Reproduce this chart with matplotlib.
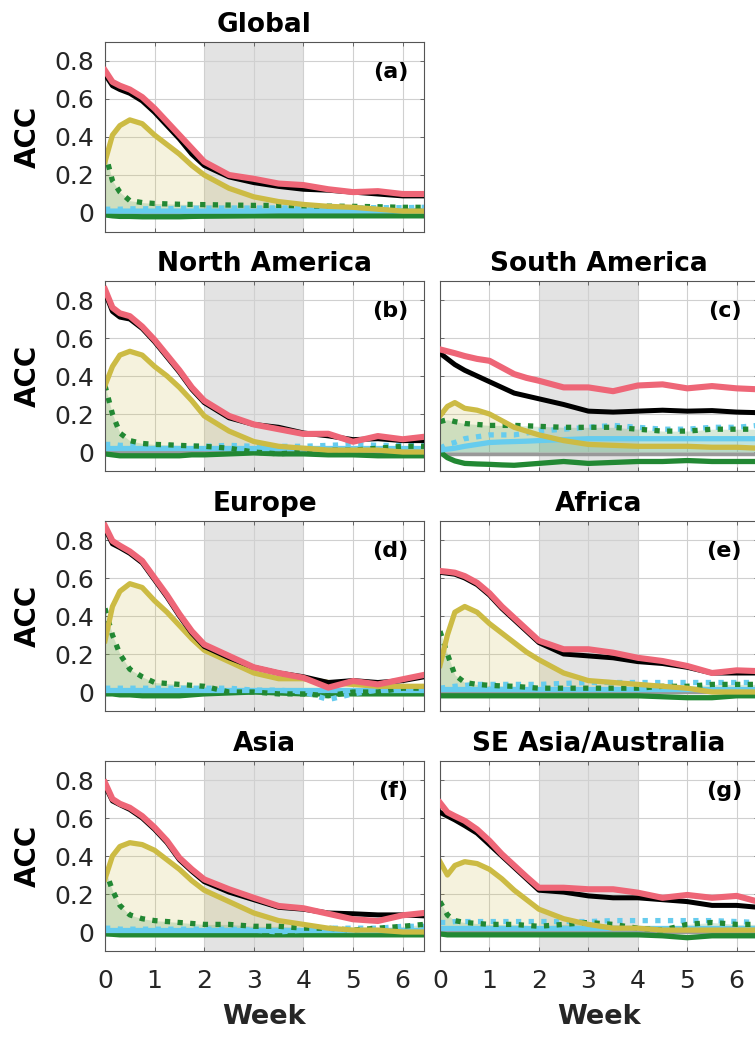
import matplotlib.pyplot as plt

plt.rcParams['font.family'] = ['DejaVu Sans']

titles = ['Global', 'North America', 'South America', 'Europe', 'Africa',
          'Asia', 'SE Asia/Australia']
letters = ['(a)', '(b)', '(c)', '(d)', '(e)', '(f)', '(g)']
weeks = [0, 0.15, 0.3, 0.5, 0.75, 1, 1.25, 1.5, 1.75, 2, 2.5, 3, 3.5, 4,
         4.5, 5, 5.5, 6, 6.43]
xticks = [0, 1, 2, 3, 4, 5, 6]
yticks = [0, 0.2, 0.4, 0.6, 0.8]
yticklabels = ['0', '0.2', '0.4', '0.6', '0.8']

# pink curve, one row per region
red_acc = [
    [0.75, 0.69, 0.67, 0.65, 0.61, 0.55, 0.48, 0.41, 0.34, 0.27, 0.20, 0.18, 0.155, 0.147, 0.125, 0.11, 0.115, 0.10, 0.10],
    [0.856, 0.76, 0.73, 0.715, 0.66, 0.59, 0.51, 0.43, 0.34, 0.27, 0.19, 0.145, 0.12, 0.095, 0.096, 0.054, 0.084, 0.067, 0.08],
    [0.54, 0.53, 0.52, 0.505, 0.49, 0.48, 0.445, 0.41, 0.39, 0.375, 0.34, 0.34, 0.32, 0.35, 0.356, 0.335, 0.347, 0.335, 0.33],
    [0.874, 0.795, 0.77, 0.74, 0.69, 0.60, 0.51, 0.41, 0.32, 0.25, 0.19, 0.13, 0.10, 0.075, 0.023, 0.058, 0.04, 0.067, 0.09],
    [0.637, 0.633, 0.628, 0.61, 0.575, 0.52, 0.45, 0.39, 0.33, 0.27, 0.225, 0.225, 0.207, 0.18, 0.163, 0.137, 0.10, 0.114, 0.11],
    [0.786, 0.70, 0.675, 0.654, 0.61, 0.55, 0.48, 0.39, 0.33, 0.277, 0.225, 0.18, 0.137, 0.125, 0.096, 0.067, 0.058, 0.088, 0.10],
    [0.68, 0.63, 0.61, 0.585, 0.54, 0.48, 0.41, 0.35, 0.29, 0.233, 0.233, 0.225, 0.225, 0.207, 0.18, 0.195, 0.18, 0.19, 0.16],
]
black_acc = [
    [0.73, 0.67, 0.65, 0.63, 0.59, 0.53, 0.46, 0.39, 0.31, 0.25, 0.19, 0.16, 0.14, 0.125, 0.12, 0.11, 0.10, 0.09, 0.09],
    [0.84, 0.74, 0.71, 0.70, 0.65, 0.58, 0.50, 0.42, 0.33, 0.26, 0.18, 0.145, 0.13, 0.10, 0.085, 0.065, 0.07, 0.06, 0.06],
    [0.52, 0.49, 0.46, 0.43, 0.40, 0.37, 0.34, 0.31, 0.295, 0.28, 0.25, 0.215, 0.21, 0.215, 0.22, 0.215, 0.218, 0.21, 0.207],
    [0.86, 0.78, 0.76, 0.73, 0.68, 0.59, 0.50, 0.40, 0.31, 0.24, 0.18, 0.13, 0.10, 0.08, 0.05, 0.06, 0.05, 0.06, 0.08],
    [0.63, 0.625, 0.62, 0.60, 0.565, 0.51, 0.44, 0.38, 0.32, 0.26, 0.20, 0.19, 0.18, 0.16, 0.15, 0.13, 0.10, 0.10, 0.10],
    [0.77, 0.69, 0.67, 0.645, 0.60, 0.54, 0.47, 0.38, 0.32, 0.265, 0.21, 0.17, 0.13, 0.12, 0.10, 0.096, 0.09, 0.09, 0.085],
    [0.63, 0.61, 0.59, 0.56, 0.52, 0.46, 0.40, 0.34, 0.28, 0.22, 0.21, 0.19, 0.18, 0.18, 0.17, 0.16, 0.14, 0.14, 0.13],
]
yellow_acc = [
    [0.27, 0.41, 0.46, 0.49, 0.47, 0.41, 0.36, 0.31, 0.25, 0.20, 0.13, 0.085, 0.06, 0.045, 0.035, 0.03, 0.02, 0.01, 0.01],
    [0.35, 0.45, 0.51, 0.53, 0.51, 0.45, 0.40, 0.34, 0.27, 0.19, 0.11, 0.055, 0.03, 0.02, 0.01, 0.01, 0.01, 0.0, 0.0],
    [0.19, 0.24, 0.26, 0.23, 0.22, 0.20, 0.165, 0.13, 0.11, 0.09, 0.06, 0.04, 0.035, 0.03, 0.03, 0.03, 0.025, 0.025, 0.02],
    [0.27, 0.45, 0.53, 0.57, 0.55, 0.48, 0.42, 0.35, 0.28, 0.22, 0.16, 0.10, 0.07, 0.07, 0.05, 0.04, 0.03, 0.03, 0.03],
    [0.14, 0.30, 0.42, 0.45, 0.42, 0.36, 0.31, 0.26, 0.21, 0.17, 0.10, 0.06, 0.05, 0.04, 0.03, 0.02, 0.0, 0.0, 0.0],
    [0.28, 0.40, 0.45, 0.47, 0.46, 0.43, 0.38, 0.33, 0.27, 0.22, 0.16, 0.10, 0.06, 0.04, 0.02, 0.01, 0.01, 0.0, 0.0],
    [0.37, 0.30, 0.35, 0.37, 0.36, 0.33, 0.28, 0.22, 0.17, 0.12, 0.07, 0.04, 0.02, 0.02, 0.01, 0.01, 0.01, 0.01, 0.01],
]
green_dot = [
    [0.32, 0.17, 0.11, 0.065, 0.055, 0.05, 0.048, 0.046, 0.045, 0.044, 0.042, 0.04, 0.04, 0.038, 0.036, 0.035, 0.033, 0.03, 0.03],
    [0.35, 0.20, 0.10, 0.06, 0.045, 0.04, 0.038, 0.035, 0.032, 0.03, 0.02, 0.0, -0.01, 0.0, 0.01, 0.01, 0.02, 0.03, 0.03],
    [0.16, 0.17, 0.16, 0.15, 0.145, 0.14, 0.14, 0.14, 0.138, 0.135, 0.13, 0.13, 0.13, 0.12, 0.11, 0.11, 0.12, 0.12, 0.12],
    [0.44, 0.30, 0.20, 0.12, 0.08, 0.05, 0.045, 0.04, 0.035, 0.03, 0.0, 0.0, -0.01, -0.01, -0.02, 0.0, 0.0, 0.02, 0.02],
    [0.32, 0.20, 0.09, 0.05, 0.04, 0.035, 0.032, 0.03, 0.025, 0.02, 0.02, 0.02, 0.02, 0.02, 0.03, 0.03, 0.04, 0.04, 0.04],
    [0.33, 0.22, 0.14, 0.09, 0.07, 0.06, 0.055, 0.05, 0.045, 0.04, 0.04, 0.03, 0.03, 0.02, 0.02, 0.01, 0.02, 0.03, 0.04],
    [0.16, 0.09, 0.06, 0.05, 0.045, 0.04, 0.04, 0.04, 0.035, 0.03, 0.04, 0.05, 0.04, 0.02, 0.01, 0.04, 0.05, 0.04, 0.04],
]
cyan_dot = [
    [0.02, 0.02, 0.02, 0.022, 0.022, 0.023, 0.023, 0.024, 0.025, 0.025, 0.026, 0.026, 0.027, 0.027, 0.028, 0.028, 0.028, 0.028, 0.03],
    [0.04, 0.04, 0.035, 0.035, 0.035, 0.035, 0.035, 0.03, 0.03, 0.03, 0.035, 0.03, 0.03, 0.03, 0.035, 0.04, 0.035, 0.035, 0.04],
    [0.02, 0.04, 0.05, 0.07, 0.08, 0.09, 0.09, 0.09, 0.10, 0.11, 0.12, 0.13, 0.14, 0.13, 0.12, 0.12, 0.13, 0.13, 0.14],
    [0.02, 0.02, 0.02, 0.02, 0.02, 0.02, 0.02, 0.02, 0.02, 0.02, 0.02, 0.01, 0.01, 0.0, -0.04, -0.01, 0.01, 0.02, 0.02],
    [0.02, 0.025, 0.03, 0.035, 0.04, 0.04, 0.04, 0.04, 0.04, 0.04, 0.045, 0.05, 0.05, 0.05, 0.05, 0.05, 0.05, 0.05, 0.05],
    [0.02, 0.02, 0.015, 0.015, 0.015, 0.015, 0.015, 0.015, 0.015, 0.015, 0.015, 0.01, 0.0, 0.01, 0.02, 0.02, 0.02, 0.03, 0.03],
    [0.05, 0.05, 0.055, 0.055, 0.055, 0.055, 0.055, 0.055, 0.055, 0.055, 0.055, 0.055, 0.06, 0.06, 0.06, 0.06, 0.06, 0.055, 0.05],
]
cyan_line = [
    [0.01, 0.01, 0.01, 0.01, 0.01, 0.01, 0.01, 0.01, 0.01, 0.01, 0.01, 0.01, 0.012, 0.012, 0.012, 0.012, 0.012, 0.012, 0.012],
    [0.02, 0.02, 0.02, 0.02, 0.02, 0.02, 0.02, 0.02, 0.02, 0.02, 0.02, 0.02, 0.02, 0.02, 0.02, 0.02, 0.02, 0.02, 0.02],
    [0.01, 0.015, 0.02, 0.03, 0.04, 0.05, 0.053, 0.055, 0.057, 0.06, 0.065, 0.07, 0.07, 0.07, 0.07, 0.07, 0.07, 0.07, 0.07],
    [0.01, 0.01, 0.01, 0.01, 0.01, 0.01, 0.01, 0.01, 0.01, 0.01, 0.01, 0.01, 0.01, 0.01, 0.01, 0.01, 0.01, 0.01, 0.01],
    [0.015, 0.015, 0.015, 0.015, 0.015, 0.015, 0.015, 0.015, 0.015, 0.015, 0.015, 0.015, 0.015, 0.015, 0.015, 0.015, 0.015, 0.015, 0.015],
    [0.01, 0.01, 0.01, 0.01, 0.01, 0.01, 0.01, 0.01, 0.01, 0.01, 0.01, 0.01, 0.01, 0.01, 0.01, 0.01, 0.01, 0.01, 0.01],
    [0.02, 0.02, 0.02, 0.02, 0.02, 0.02, 0.02, 0.02, 0.02, 0.02, 0.02, 0.02, 0.02, 0.02, 0.02, 0.02, 0.02, 0.02, 0.02],
]
green_line = [
    [-0.01, -0.015, -0.018, -0.018, -0.02, -0.02, -0.02, -0.02, -0.018, -0.017, -0.016, -0.015, -0.015, -0.015, -0.015, -0.015, -0.015, -0.015, -0.015],
    [-0.01, -0.015, -0.02, -0.02, -0.02, -0.02, -0.02, -0.02, -0.015, -0.015, -0.01, -0.005, -0.01, -0.01, -0.015, -0.015, -0.02, -0.02, -0.02],
    [0.0, -0.03, -0.047, -0.06, -0.063, -0.065, -0.068, -0.07, -0.065, -0.06, -0.05, -0.06, -0.055, -0.05, -0.05, -0.045, -0.05, -0.05, -0.05],
    [-0.01, -0.01, -0.015, -0.015, -0.02, -0.02, -0.02, -0.02, -0.015, -0.01, -0.005, 0.0, -0.005, -0.01, -0.01, -0.01, -0.01, -0.01, -0.01],
    [-0.02, -0.02, -0.02, -0.02, -0.02, -0.02, -0.02, -0.02, -0.02, -0.02, -0.02, -0.02, -0.02, -0.02, -0.025, -0.03, -0.03, -0.02, -0.02],
    [-0.01, -0.012, -0.015, -0.015, -0.015, -0.015, -0.015, -0.015, -0.015, -0.015, -0.015, -0.015, -0.015, -0.015, -0.015, -0.015, -0.015, -0.015, -0.015],
    [-0.01, -0.015, -0.015, -0.015, -0.015, -0.015, -0.015, -0.015, -0.015, -0.015, -0.015, -0.015, -0.015, -0.015, -0.02, -0.03, -0.02, -0.02, -0.02],
]
grey_line = [
    [0.0] * 19,
    [0.0] * 19,
    [-0.01] * 19,
    [0.0] * 19,
    [0.0] * 19,
    [0.0] * 19,
    [0.0] * 19,
]

RED = '#EE6677'
YELLOW = '#CCBB44'
GREEN = '#228833'
CYAN = '#66CCEE'
GREY = '#999999'
DOTS = (0, (1, 1.4))

# (row, col) of each panel
slots = [(0, 0), (1, 0), (1, 1), (2, 0), (2, 1), (3, 0), (3, 1)]

W, H = 755, 1037
fig = plt.figure(figsize=(W / 100, H / 100), dpi=100)
col_left = [105, 440]
col_width = [319, 318]
row_top = [42, 281, 521, 761]
ax_h = 190

for i, (r, c) in enumerate(slots):
    ax = fig.add_axes([col_left[c] / W, 1 - (row_top[r] + ax_h) / H,
                       col_width[c] / W, ax_h / H])
    ax.axvspan(2, 4, color='#e3e3e3', zorder=0.2, lw=0)

    ax.fill_between(weeks, 0, yellow_acc[i], color=YELLOW, alpha=0.18, lw=0, zorder=1)
    ax.fill_between(weeks, 0, green_dot[i], color=GREEN, alpha=0.18, lw=0, zorder=1)
    ax.fill_between(weeks, 0, cyan_line[i], color=CYAN, alpha=0.2, lw=0, zorder=1)

    ax.plot(weeks, grey_line[i], color=GREY, lw=2.5, zorder=2)
    ax.plot(weeks, green_line[i], color=GREEN, lw=3.8, zorder=2.1)
    ax.plot(weeks, cyan_line[i], color=CYAN, lw=3.8, zorder=2.2)
    ax.plot(weeks, cyan_dot[i], color=CYAN, lw=3.8, ls=DOTS, zorder=2.3)
    ax.plot(weeks, green_dot[i], color=GREEN, lw=3.8, ls=DOTS, zorder=2.4)
    ax.plot(weeks, yellow_acc[i], color=YELLOW, lw=3.8, zorder=2.5)
    ax.plot(weeks, black_acc[i], color='black', lw=3.6, zorder=2.6)
    ax.plot(weeks, red_acc[i], color=RED, lw=4.4, zorder=2.7)

    ax.set_xlim(0, 6.43)
    ax.set_ylim(-0.1, 0.9)
    ax.set_xticks(xticks)
    ax.set_yticks(yticks)
    ax.set_axisbelow(True)
    ax.grid(True, color='#d0d0d0', lw=0.8)
    ax.tick_params(direction='in', length=3, width=0.6, colors='#555555',
                   labelcolor='#262626', labelsize=18, top=True, right=True)
    ax.tick_params(axis='x', pad=13)
    ax.tick_params(axis='y', pad=8)
    for s in ax.spines.values():
        s.set_color('#555555')
        s.set_linewidth(0.8)

    if c == 0:
        ax.set_yticklabels(yticklabels)
        ax.set_ylabel('ACC', fontsize=20, fontweight='bold', labelpad=9)
    else:
        ax.set_yticklabels([])
    if r == 3:
        ax.set_xlabel('Week', fontsize=19.5, fontweight='bold', color='#262626', labelpad=8)
    else:
        ax.set_xticklabels([])

    ax.set_title(titles[i], fontsize=19, fontweight='bold', pad=7)
    ax.text(0.95, 0.84, letters[i], transform=ax.transAxes, ha='right',
            va='center', fontsize=16, fontweight='bold')

fig.savefig('out.png', dpi=100)
